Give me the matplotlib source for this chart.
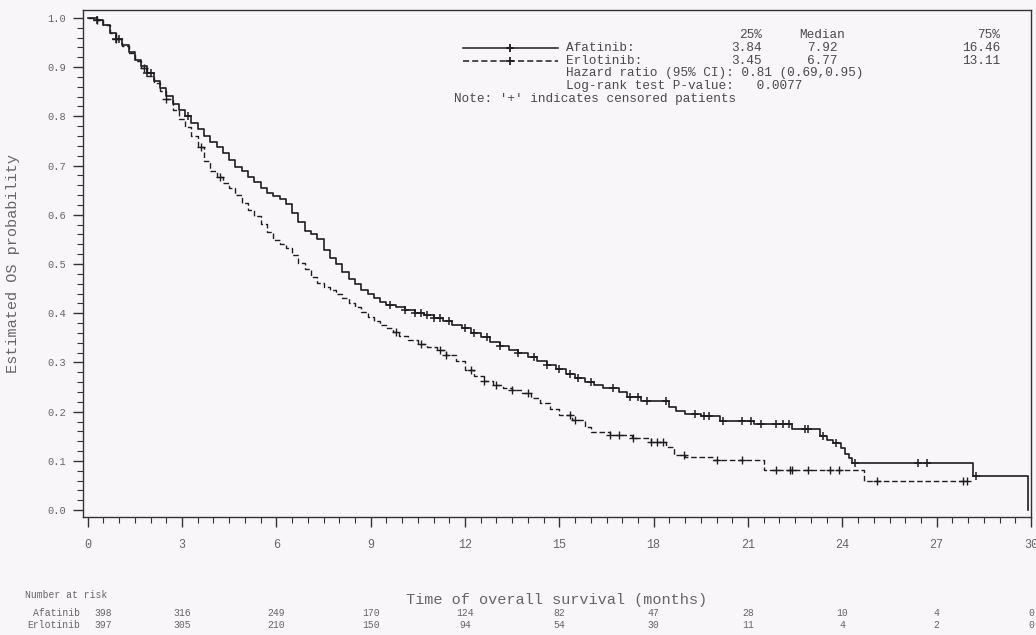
import numpy as np
import matplotlib
matplotlib.use("Agg")
import matplotlib.pyplot as plt
from matplotlib.ticker import MultipleLocator, FormatStrFormatter
from matplotlib.lines import Line2D

# ---------------- data ----------------
afa_t = [0, 0.3, 0.5, 0.7, 0.9, 1.1, 1.3, 1.5, 1.7, 1.9, 2.1, 2.3, 2.5, 2.7, 2.9,
         3.1, 3.3, 3.5, 3.7, 3.9, 4.1, 4.3, 4.5, 4.7, 4.9, 5.1, 5.3, 5.5, 5.7, 5.9,
         6.1, 6.3, 6.5, 6.7, 6.9, 7.1, 7.3, 7.5, 7.7, 7.9, 8.1, 8.3, 8.5, 8.7, 8.9,
         9.1, 9.3, 9.5, 9.8, 10.1, 10.4, 10.7, 11.0, 11.3, 11.6, 11.9, 12.2, 12.5,
         12.8, 13.1, 13.4, 13.7, 14.0, 14.3, 14.6, 14.9, 15.2, 15.5, 15.8, 16.1,
         16.4, 16.9, 17.15, 17.6, 18.5, 18.7, 19.0, 19.5, 20.1, 21.2, 22.4, 23.3,
         23.5, 23.7, 23.95, 24.1, 24.2, 24.32, 28.17, 29.9]
afa_s = [1.0, 0.995, 0.985, 0.970, 0.958, 0.945, 0.930, 0.915, 0.902, 0.888, 0.872,
         0.858, 0.842, 0.826, 0.812, 0.800, 0.787, 0.774, 0.761, 0.748, 0.737, 0.726,
         0.712, 0.698, 0.688, 0.677, 0.666, 0.655, 0.645, 0.639, 0.632, 0.621, 0.603,
         0.585, 0.567, 0.560, 0.550, 0.528, 0.513, 0.500, 0.484, 0.470, 0.459, 0.448,
         0.439, 0.431, 0.423, 0.417, 0.412, 0.407, 0.401, 0.396, 0.390, 0.384, 0.377,
         0.369, 0.360, 0.351, 0.342, 0.333, 0.326, 0.319, 0.311, 0.303, 0.295, 0.286,
         0.276, 0.268, 0.260, 0.254, 0.248, 0.240, 0.230, 0.221, 0.210, 0.202, 0.195,
         0.191, 0.182, 0.174, 0.165, 0.150, 0.142, 0.136, 0.126, 0.115, 0.105, 0.095,
         0.069, 0.0]
afa_cens = [0.3, 0.9, 1.0, 1.9, 2.0, 3.2, 9.6, 10.1, 10.4, 10.6, 10.8, 11.0, 11.2,
            11.5, 12.0, 12.3, 12.7, 13.1, 13.7, 14.2, 14.6, 15.0, 15.35, 15.6, 16.0,
            16.7, 17.25, 17.5, 17.8, 18.4, 19.3, 19.6, 19.75, 20.2, 20.8, 21.1, 21.4,
            21.9, 22.1, 22.3, 22.8, 22.9, 23.4, 23.8, 24.4, 26.4, 26.7, 28.25]

erl_t = [0, 0.3, 0.5, 0.7, 0.9, 1.1, 1.3, 1.5, 1.7, 1.9, 2.1, 2.3, 2.5, 2.7, 2.9,
         3.1, 3.3, 3.5, 3.7, 3.9, 4.1, 4.3, 4.5, 4.7, 4.9, 5.1, 5.3, 5.5, 5.7, 5.9,
         6.1, 6.3, 6.5, 6.7, 6.9, 7.1, 7.3, 7.5, 7.7, 7.9, 8.1, 8.3, 8.5, 8.7, 8.9,
         9.1, 9.3, 9.5, 9.7, 9.9, 10.2, 10.5, 10.8, 11.1, 11.4, 11.7, 12.0, 12.3,
         12.6, 12.9, 13.2, 13.5, 13.8, 14.1, 14.4, 14.7, 15.0, 15.4, 15.8, 16.0,
         16.6, 17.3, 17.9, 18.4, 18.64, 19.0, 19.9, 21.5, 24.7, 27.98]
erl_s = [1.0, 0.995, 0.985, 0.970, 0.958, 0.943, 0.928, 0.913, 0.898, 0.882, 0.867,
         0.852, 0.835, 0.812, 0.795, 0.779, 0.760, 0.737, 0.710, 0.688, 0.676, 0.665,
         0.654, 0.641, 0.624, 0.610, 0.597, 0.582, 0.565, 0.548, 0.541, 0.533, 0.518,
         0.503, 0.490, 0.474, 0.462, 0.454, 0.447, 0.440, 0.430, 0.421, 0.412, 0.402,
         0.392, 0.384, 0.376, 0.369, 0.361, 0.353, 0.346, 0.338, 0.332, 0.325, 0.315,
         0.302, 0.285, 0.272, 0.262, 0.255, 0.249, 0.243, 0.237, 0.228, 0.218, 0.206,
         0.194, 0.184, 0.168, 0.159, 0.152, 0.146, 0.139, 0.129, 0.112, 0.108, 0.102,
         0.081, 0.060, 0.060]
erl_cens = [0.3, 0.9, 1.8, 2.5, 3.6, 4.2, 9.8, 10.6, 11.2, 11.4, 12.2, 12.6, 13.0,
            13.5, 14.0, 15.35, 15.5, 16.6, 16.9, 17.35, 17.9, 18.1, 18.3, 18.95, 20.0,
            20.8, 21.9, 22.35, 22.4, 22.9, 23.6, 23.9, 25.1, 27.85, 27.95]

risk_times = [0, 3, 6, 9, 12, 15, 18, 21, 24, 27, 30]
risk_afa = [398, 316, 249, 170, 124, 82, 47, 28, 10, 4, 0]
risk_erl = [397, 305, 210, 150, 94, 54, 30, 11, 4, 2, 0]

x_ticks = [0, 3, 6, 9, 12, 15, 18, 21, 24, 27, 30]
legend_header = ["25%", "Median", "75%"]
afa_quant = ["3.84", "7.92", "16.46"]
erl_quant = ["3.45", "6.77", "13.11"]
hr_text = "Hazard ratio (95% CI): 0.81 (0.69,0.95)"
lr_text = "Log-rank test P-value:   0.0077"
note_text = "Note: '+' indicates censored patients"

# ---------------- styling ----------------
MONO = "Liberation Mono"
BG = "#f8f6f9"
TXT = "#666666"
LINE = "#1e1e1e"

fig = plt.figure(figsize=(10.36, 6.35), dpi=100, facecolor=BG)
ax = fig.add_axes([83 / 1036, 1 - 517 / 635, 948 / 1036, 507 / 635])
ax.set_facecolor(BG)


def surv_at(ts, ss, x):
    i = np.searchsorted(np.asarray(ts), x, side="right") - 1
    return np.asarray(ss)[i]


ax.plot(afa_t, afa_s, drawstyle="steps-post", color=LINE, lw=1.2)
ax.plot(erl_t, erl_s, drawstyle="steps-post", color=LINE, lw=1.0,
        linestyle=(0, (4, 2)))
ax.plot(afa_cens, surv_at(afa_t, afa_s, afa_cens), ls="none", marker="+",
        ms=5.5, mew=1.1, color=LINE)
ax.plot(erl_cens, surv_at(erl_t, erl_s, erl_cens), ls="none", marker="+",
        ms=5.5, mew=1.0, color=LINE)

ax.set_xlim(-0.15, 30.0)
ax.set_ylim(-0.014, 1.016)
ax.set_xticks(x_ticks)
ax.xaxis.set_minor_locator(MultipleLocator(0.5))
ax.yaxis.set_major_locator(MultipleLocator(0.1))
ax.yaxis.set_minor_locator(MultipleLocator(0.02))
ax.yaxis.set_major_formatter(FormatStrFormatter("%.1f"))
ax.tick_params(which="major", direction="out", length=7, width=1.0,
               color="#333333", labelcolor=TXT, labelsize=8.5, pad=9)
ax.tick_params(which="minor", direction="out", length=4, width=0.8,
               color="#333333")
ax.tick_params(axis="y", labelsize=7.5, pad=5)
for lab in ax.get_xticklabels() + ax.get_yticklabels():
    lab.set_family(MONO)
for sp in ax.spines.values():
    sp.set_color("#333333")
    sp.set_linewidth(1.0)

ax.set_xlabel("Time of overall survival (months)", family=MONO, fontsize=11,
              color=TXT, labelpad=30)
ax.set_ylabel("Estimated OS probability", family=MONO, fontsize=11,
              color=TXT, labelpad=20)

# ---------------- legend block ----------------
def fx(px):
    return (px - 83) / 948


def fy(py):
    return (517 - py) / 507


lt = ax.transAxes
fs = 9.2
tc = "#4a4a4a"
rows = [35, 47.8, 60.6, 73.4, 86.2, 99]
ax.text(fx(762), fy(rows[0]), legend_header[0], transform=lt, family=MONO,
        fontsize=fs, color=tc, ha="right", va="center")
ax.text(fx(822), fy(rows[0]), legend_header[1], transform=lt, family=MONO,
        fontsize=fs, color=tc, ha="center", va="center")
ax.text(fx(1000), fy(rows[0]), legend_header[2], transform=lt, family=MONO,
        fontsize=fs, color=tc, ha="right", va="center")

for r, name, q, ls in [(rows[1], "Afatinib:", afa_quant, "-"),
                       (rows[2], "Erlotinib:", erl_quant, (0, (4, 2)))]:
    ax.add_line(Line2D([fx(463), fx(558)], [fy(r), fy(r)], transform=lt,
                       color=LINE, lw=1.1, linestyle=ls))
    ax.plot([fx(510)], [fy(r)], transform=lt, marker="+", ms=6, mew=1.3,
            color=LINE)
    ax.text(fx(566), fy(r), name, transform=lt, family=MONO, fontsize=fs,
            color=tc, ha="left", va="center")
    ax.text(fx(762), fy(r), q[0], transform=lt, family=MONO, fontsize=fs,
            color=tc, ha="right", va="center")
    ax.text(fx(822), fy(r), q[1], transform=lt, family=MONO, fontsize=fs,
            color=tc, ha="center", va="center")
    ax.text(fx(1000), fy(r), q[2], transform=lt, family=MONO, fontsize=fs,
            color=tc, ha="right", va="center")

ax.text(fx(566), fy(rows[3]), hr_text, transform=lt, family=MONO, fontsize=fs,
        color=tc, ha="left", va="center")
ax.text(fx(566), fy(rows[4]), lr_text, transform=lt, family=MONO, fontsize=fs,
        color=tc, ha="left", va="center")
ax.text(fx(454), fy(rows[5]), note_text, transform=lt, family=MONO, fontsize=fs,
        color=tc, ha="left", va="center")

# ---------------- number at risk ----------------
xt = ax.get_xaxis_transform()
rfs = 7
ax.text(fx(25), fy(595), "Number at risk", transform=lt, family=MONO,
        fontsize=rfs, color=TXT, ha="left", va="center")
ax.text(fx(80), fy(613), "Afatinib", transform=lt, family=MONO,
        fontsize=rfs, color=TXT, ha="right", va="center")
ax.text(fx(80), fy(625), "Erlotinib", transform=lt, family=MONO,
        fontsize=rfs, color=TXT, ha="right", va="center")
for t, a, e in zip(risk_times, risk_afa, risk_erl):
    off = 0.5 if t == 0 else 0.0
    ax.text(t + off, fy(613), str(a), transform=xt, family=MONO, fontsize=rfs,
            color=TXT, ha="center", va="center", clip_on=False)
    ax.text(t + off, fy(625), str(e), transform=xt, family=MONO, fontsize=rfs,
            color=TXT, ha="center", va="center", clip_on=False)

fig.savefig("out.png", dpi=100, facecolor=BG)
